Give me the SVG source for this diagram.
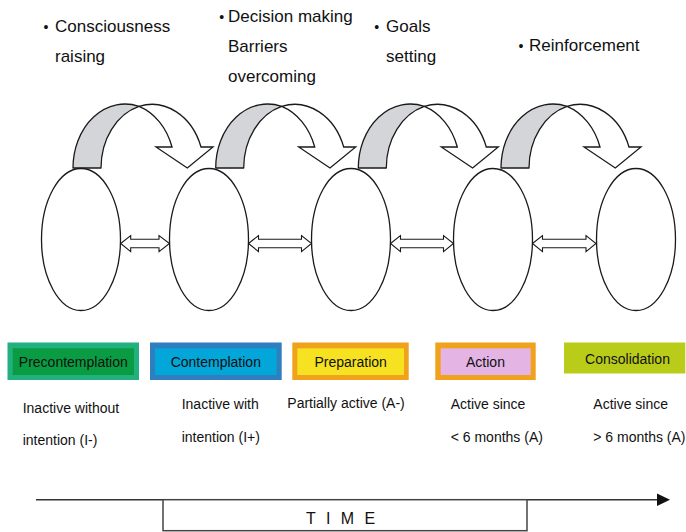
<svg xmlns="http://www.w3.org/2000/svg" width="686" height="532" viewBox="0 0 686 532">
  <style>
    text { font-family: "Liberation Sans", Arial, sans-serif; fill: #111; }
    .proc { font-size: 17px; }
    .dot { font-size: 14px; }
    .lbl { font-size: 14px; }
    .desc { font-size: 14px; }
    .stage { fill: #fff; stroke: #1a1a1a; stroke-width: 1.3; }
    .back { fill: #d4d5d9; stroke: #1a1a1a; stroke-width: 1.3; stroke-linejoin: round; }
    .front { fill: #fff; stroke: #1a1a1a; stroke-width: 1.3; stroke-linejoin: miter; }
    .dbl { fill: #fff; stroke: #1a1a1a; stroke-width: 1.1; stroke-linejoin: miter; }
  </style>
  <defs>
    <!-- curved "down" arrow: shaded back band + white front band with head -->
    <g id="curved">
      <path class="back" d="M73,168 A52,64 0 0 1 139,106.4 A52,64 0 0 0 101,168 Z"/>
      <path class="front" d="M139,106.4 A52,64 0 0 1 201,147 L213,147 L187.3,168 L156,147 L172,147 A52,64 0 0 0 139,106.4 Z"/>
    </g>
  </defs>

  <!-- process labels -->
  <g id="processes">
    <text class="dot" x="43.5" y="32">•</text>
    <text class="proc" x="55" y="32">Consciousness</text>
    <text class="proc" x="55" y="62">raising</text>
    <text class="dot" x="219.3" y="22">•</text>
    <text class="proc" x="228" y="22">Decision making</text>
    <text class="proc" x="228" y="52">Barriers</text>
    <text class="proc" x="228" y="82">overcoming</text>
    <text class="dot" x="374.3" y="32">•</text>
    <text class="proc" x="386" y="32">Goals</text>
    <text class="proc" x="386" y="62">setting</text>
    <text class="dot" x="518.6" y="51">•</text>
    <text class="proc" x="529" y="51">Reinforcement</text>
  </g>

  <!-- connectors -->
  <g id="connectors">
    <use href="#curved"/>
    <use href="#curved" transform="translate(142.7,0)"/>
    <use href="#curved" transform="translate(285.3,0)"/>
    <use href="#curved" transform="translate(428,0)"/>
    <path class="dbl" d="M120.7,243.5 L130.7,235.6 L130.7,239.2 L159,239.2 L159,235.6 L169.5,243.5 L159,251.6 L159,247.8 L130.7,247.8 L130.7,251.6 Z"/>
    <path class="dbl" d="M248.5,243.5 L258.5,235.6 L258.5,239.2 L301.5,239.2 L301.5,235.6 L311.5,243.5 L301.5,251.6 L301.5,247.8 L258.5,247.8 L258.5,251.6 Z"/>
    <path class="dbl" d="M390.5,243.5 L400.5,235.6 L400.5,239.2 L443.5,239.2 L443.5,235.6 L453.5,243.5 L443.5,251.6 L443.5,247.8 L400.5,247.8 L400.5,251.6 Z"/>
    <path class="dbl" d="M532.5,243.5 L542.5,235.6 L542.5,239.2 L586,239.2 L586,235.6 L596,243.5 L586,251.6 L586,247.8 L542.5,247.8 L542.5,251.6 Z"/>
  </g>

  <!-- stages -->
  <g id="stage-precontemplation">
    <ellipse class="stage" cx="81" cy="239.5" rx="39.5" ry="71"/>
    <rect x="7.5" y="342.5" width="131.5" height="37.5" fill="#21b07e"/>
    <rect x="12.7" y="348.3" width="121.3" height="26.7" fill="#099c42"/>
    <text class="lbl" x="73.3" y="366.5" text-anchor="middle">Precontemplation</text>
    <text class="desc" x="22.7" y="413">Inactive without</text>
    <text class="desc" x="22.7" y="445">intention (I-)</text>
  </g>
  <g id="stage-contemplation">
    <ellipse class="stage" cx="209" cy="239.5" rx="39.5" ry="71"/>
    <rect x="150" y="342.5" width="131.7" height="37.5" fill="#2e7ec0"/>
    <rect x="155" y="348.3" width="121.7" height="26.7" fill="#02a6d8"/>
    <text class="lbl" x="215.8" y="366.5" text-anchor="middle">Contemplation</text>
    <text class="desc" x="181.7" y="409">Inactive with</text>
    <text class="desc" x="181.7" y="441.5">intention (I+)</text>
  </g>
  <g id="stage-preparation">
    <ellipse class="stage" cx="351" cy="239.5" rx="39.5" ry="71"/>
    <rect x="292.3" y="342.5" width="116.4" height="37.5" fill="#f0a21c"/>
    <rect x="297.3" y="348.3" width="106.7" height="26.7" fill="#f6e220"/>
    <text class="lbl" x="350.7" y="366.5" text-anchor="middle">Preparation</text>
    <text class="desc" x="287.3" y="407.5">Partially active (A-)</text>
  </g>
  <g id="stage-action">
    <ellipse class="stage" cx="493" cy="239.5" rx="39.5" ry="71"/>
    <rect x="435.3" y="342.5" width="100.4" height="37.5" fill="#f0a21c"/>
    <rect x="440.7" y="348.3" width="90" height="26.7" fill="#e3b4e4"/>
    <text class="lbl" x="485.5" y="366.5" text-anchor="middle">Action</text>
    <text class="desc" x="450.7" y="409">Active since</text>
    <text class="desc" x="450.7" y="441.5">&lt; 6 months (A)</text>
  </g>
  <g id="stage-consolidation">
    <ellipse class="stage" cx="636" cy="239.5" rx="39.5" ry="71"/>
    <rect x="564" y="342.5" width="121.3" height="31" fill="#b9cc1a"/>
    <text class="lbl" x="627.5" y="363.5" text-anchor="middle">Consolidation</text>
    <text class="desc" x="593.3" y="409">Active since</text>
    <text class="desc" x="593.3" y="441.5">&gt; 6 months (A)</text>
  </g>

  <!-- time axis -->
  <g id="time">
    <line x1="36" y1="499.7" x2="660" y2="499.7" stroke="#333" stroke-width="1.5"/>
    <path d="M657,493.5 L670,499.7 L657,506 Z" fill="#111"/>
    <rect x="163" y="499.7" width="364" height="31" fill="#fff" stroke="#444" stroke-width="1.5"/>
    <text x="306" y="524" font-size="16" letter-spacing="3">T I M E</text>
  </g>
</svg>
